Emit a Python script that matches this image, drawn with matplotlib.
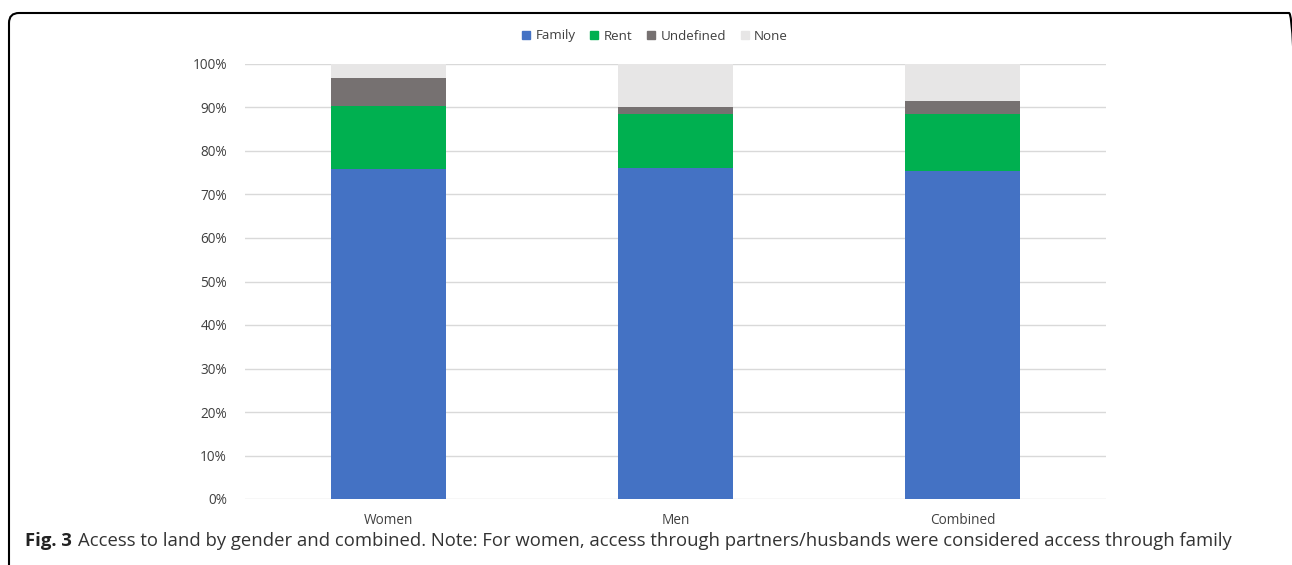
import matplotlib
matplotlib.use("Agg")
import matplotlib.pyplot as plt
import matplotlib.patches as mpatches
from matplotlib.transforms import IdentityTransform
from matplotlib.ticker import PercentFormatter
import numpy as np

# ── Data (share of respondents, %) ────────────────────────────────────────────
groups    = ["Women", "Men", "Combined"]
family    = [75.8, 76.0, 75.5]
rent      = [14.6, 12.5, 13.0]
undefined = [6.4, 1.6, 3.0]
none      = [3.2, 9.9, 8.5]

series = ["Family", "Rent", "Undefined", "None"]
colors = ["#4472C4", "#00B050", "#767171", "#E7E6E6"]

plt.rcParams["font.family"] = ["Open Sans", "DejaVu Sans"]

W, H = 1292, 565
fig = plt.figure(figsize=(W / 100, H / 100), dpi=100)
ax = fig.add_axes([245 / W, 1 - 499 / H, (1106 - 245) / W, (499 - 64) / H])

x = np.arange(len(groups))
bottom = np.zeros(len(groups))
for name, vals, col in zip(series, [family, rent, undefined, none], colors):
    vals = np.array(vals)
    ax.bar(x, vals, 0.4, bottom=bottom, color=col, label=name, zorder=3)
    bottom += vals

ax.set_xlim(-0.5, len(groups) - 0.5)
ax.set_ylim(0, 100)
ax.set_yticks(np.arange(0, 101, 10))
ax.yaxis.set_major_formatter(PercentFormatter(decimals=0))
ax.set_xticks(x)
ax.set_xticklabels(groups)
ax.tick_params(length=0, labelsize=9.8, colors="#404040")
ax.tick_params(axis="y", pad=13)
ax.tick_params(axis="x", pad=10)
for s in ax.spines.values():
    s.set_visible(False)
ax.grid(axis="y", color="#D9D9D9", linewidth=1, zorder=0)

handles = [mpatches.Patch(color=c, label=s) for s, c in zip(series, colors)]
fig.legend(handles=handles, loc="center", bbox_to_anchor=(655 / W, 1 - 36 / H),
           ncol=4, frameon=False, fontsize=9.6, handlelength=0.6, handleheight=0.6,
           handletextpad=0.4, columnspacing=1.1, labelcolor="#404040")

# rounded frame (only top/left edges fall inside the picture), pixel units
frame = mpatches.FancyBboxPatch((9, -50), 1299 - 9, H - 13 + 50,
                                boxstyle="round,pad=0,rounding_size=10",
                                transform=IdentityTransform(), fill=False,
                                edgecolor="black", linewidth=1.5)
fig.patches.append(frame)

# caption
cap_y = 1 - 541 / H
t1 = fig.text(25 / W, cap_y, "Fig. 3", fontsize=13.3, fontweight="bold",
              color="#222222", va="center")
fig.canvas.draw()
bb = t1.get_window_extent()
fig.text((bb.x1 + 6) / W, cap_y,
         "Access to land by gender and combined. Note: For women, access through "
         "partners/husbands were considered access through family",
         fontsize=13.3, color="#333333", va="center")

fig.savefig("out.png", dpi=100)
